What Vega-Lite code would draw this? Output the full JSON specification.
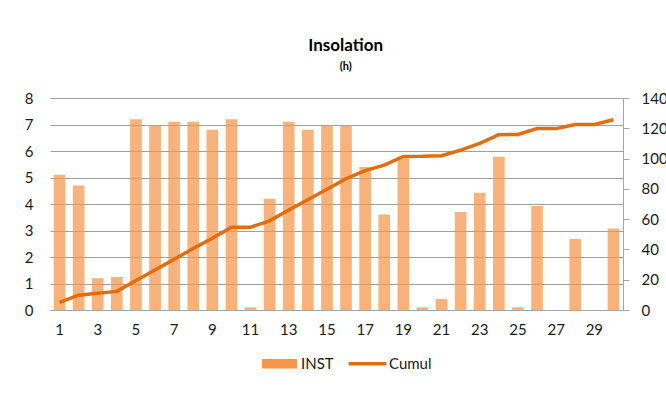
{
  "$schema": "https://vega.github.io/schema/vega-lite/v6.json",
  "width": 573,
  "height": 212,
  "autosize": {"type": "none"},
  "padding": {"left": 50, "top": 98, "right": 43, "bottom": 91},
  "background": "white",
  "config": {
    "view": {"stroke": null},
    "font": "Lato"
  },
  "title": {
    "text": "Insolation",
    "subtitle": "(h)",
    "anchor": "middle",
    "frame": "bounds",
    "font": "Lato",
    "fontSize": 17,
    "fontWeight": "bold",
    "color": "#000000",
    "subtitleFont": "Lato",
    "subtitleFontSize": 11,
    "subtitleFontWeight": "bold",
    "subtitleColor": "#000000",
    "subtitlePadding": 6,
    "offset": 18
  },
  "data": {
    "values": [
      {"day": 1, "INST": 5.1, "Cumul": 5.1},
      {"day": 2, "INST": 4.7, "Cumul": 9.8},
      {"day": 3, "INST": 1.2, "Cumul": 11.0},
      {"day": 4, "INST": 1.25, "Cumul": 12.3},
      {"day": 5, "INST": 7.2, "Cumul": 19.5},
      {"day": 6, "INST": 6.95, "Cumul": 26.4},
      {"day": 7, "INST": 7.1, "Cumul": 33.5},
      {"day": 8, "INST": 7.1, "Cumul": 40.6},
      {"day": 9, "INST": 6.8, "Cumul": 47.4},
      {"day": 10, "INST": 7.2, "Cumul": 54.6},
      {"day": 11, "INST": 0.1, "Cumul": 54.7},
      {"day": 12, "INST": 4.2, "Cumul": 58.9},
      {"day": 13, "INST": 7.1, "Cumul": 66.0},
      {"day": 14, "INST": 6.8, "Cumul": 72.8},
      {"day": 15, "INST": 6.95, "Cumul": 79.8},
      {"day": 16, "INST": 6.95, "Cumul": 86.7},
      {"day": 17, "INST": 5.4, "Cumul": 92.1},
      {"day": 18, "INST": 3.6, "Cumul": 95.7},
      {"day": 19, "INST": 5.72, "Cumul": 101.4},
      {"day": 20, "INST": 0.1, "Cumul": 101.5},
      {"day": 21, "INST": 0.42, "Cumul": 101.9},
      {"day": 22, "INST": 3.7, "Cumul": 105.6},
      {"day": 23, "INST": 4.42, "Cumul": 110.0},
      {"day": 24, "INST": 5.78, "Cumul": 115.8},
      {"day": 25, "INST": 0.1, "Cumul": 115.9},
      {"day": 26, "INST": 3.92, "Cumul": 119.8},
      {"day": 27, "INST": 0, "Cumul": 119.8},
      {"day": 28, "INST": 2.68, "Cumul": 122.5},
      {"day": 29, "INST": 0, "Cumul": 122.5},
      {"day": 30, "INST": 3.08, "Cumul": 125.6}
    ]
  },
  "encoding": {
    "x": {
      "field": "day",
      "type": "ordinal",
      "scale": {"paddingInner": 0.39, "paddingOuter": 0.195},
      "axis": {
        "values": [1, 3, 5, 7, 9, 11, 13, 15, 17, 19, 21, 23, 25, 27, 29],
        "labelAngle": 0,
        "ticks": false,
        "domain": true,
        "domainColor": "#a6a6a6",
        "domainWidth": 1,
        "grid": false,
        "title": null,
        "labelFont": "Lato",
        "labelFontSize": 15,
        "labelColor": "#1a1a1a",
        "labelPadding": 12
      }
    }
  },
  "layer": [
    {
      "mark": {"type": "bar", "fillOpacity": 0.72},
      "encoding": {
        "y": {
          "field": "INST",
          "type": "quantitative",
          "scale": {"domain": [0, 8]},
          "axis": {
            "orient": "left",
            "values": [0, 1, 2, 3, 4, 5, 6, 7, 8],
            "grid": true,
            "gridColor": "#a0a0a0",
            "gridWidth": 1,
            "domain": false,
            "ticks": false,
            "title": null,
            "labelFont": "Lato",
            "labelFontSize": 15,
            "labelColor": "#1a1a1a",
            "labelPadding": 17
          }
        },
        "color": {
          "datum": "INST",
          "type": "nominal",
          "scale": {"domain": ["INST", "Cumul"], "range": ["#f79646", "#e46c0a"]},
          "legend": {
            "orient": "none",
            "direction": "horizontal",
            "legendX": 222,
            "legendY": 258,
            "title": null,
            "padding": 0,
            "symbolSize": 1225,
            "labelFont": "Lato",
            "labelFontSize": 15,
            "labelColor": "#1a1a1a",
            "labelOffset": 14,
            "columnPadding": 7,
            "encode": {
              "symbols": {
                "update": {
                  "shape": {"signal": "datum.value === 'INST' ? 'M-1,-0.27H1V0.27H-1Z' : 'M-1.08,0H1.08'"},
                  "size": {"value": 1225},
                  "fill": {"signal": "datum.value === 'INST' ? '#f9b67e' : 'transparent'"},
                  "stroke": {"signal": "datum.value === 'INST' ? 'transparent' : '#e46c0a'"},
                  "strokeWidth": {"signal": "datum.value === 'INST' ? 0 : 3.5"},
                  "opacity": {"value": 1},
                  "fillOpacity": {"value": 1}
                }
              }
            }
          }
        }
      }
    },
    {
      "mark": {"type": "line", "strokeWidth": 3.5},
      "encoding": {
        "y": {
          "field": "Cumul",
          "type": "quantitative",
          "scale": {"domain": [0, 140]},
          "axis": {
            "orient": "right",
            "values": [0, 20, 40, 60, 80, 100, 120, 140],
            "grid": false,
            "domain": true,
            "domainColor": "#a6a6a6",
            "ticks": true,
            "tickSize": 6,
            "tickColor": "#a6a6a6",
            "title": null,
            "labelFont": "Lato",
            "labelFontSize": 15,
            "labelColor": "#1a1a1a",
            "labelPadding": 12
          }
        },
        "color": {"datum": "Cumul", "type": "nominal"}
      }
    }
  ],
  "resolve": {"scale": {"y": "independent"}}
}
